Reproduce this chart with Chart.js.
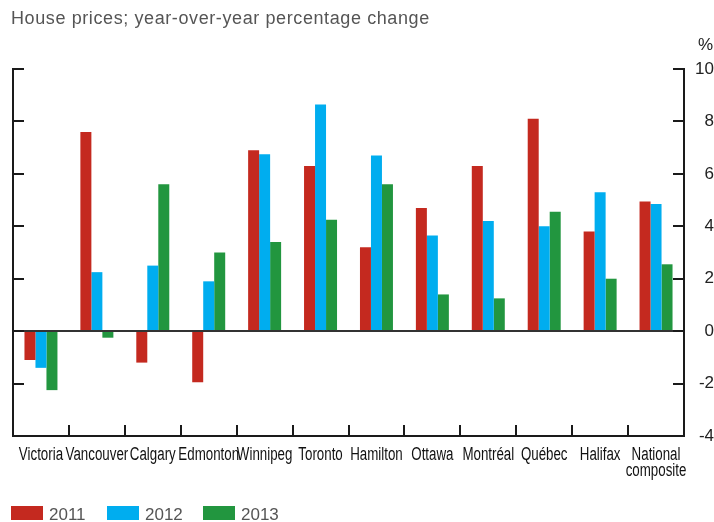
<!DOCTYPE html>
<html>
<head>
<meta charset="utf-8">
<script src="https://cdn.jsdelivr.net/npm/chart.js@4.4.1/dist/chart.umd.min.js"></script>
<style>
  html, body { margin: 0; padding: 0; background: #fff; }
  canvas { display: block; }
</style>
</head>
<body>
<canvas id="housePrices" width="714" height="522"></canvas>
<script>
// categories and values (% change, y/y)
const cities = ['Victoria', 'Vancouver', 'Calgary', 'Edmonton', 'Winnipeg', 'Toronto',
  'Hamilton', 'Ottawa', 'Montréal', 'Québec', 'Halifax', ['National', 'composite']];
const years = ['2011', '2012', '2013'];
const prices2011 = [-1.1, 7.6, -1.2, -1.95, 6.9, 6.3, 3.2, 4.7, 6.3, 8.1, 3.8, 4.95];
const prices2012 = [-1.4, 2.25, 2.5, 1.9, 6.75, 8.65, 6.7, 3.65, 4.2, 4.0, 5.3, 4.85];
const prices2013 = [-2.25, -0.25, 5.6, 3.0, 3.4, 4.25, 5.6, 1.4, 1.25, 4.55, 2.0, 2.55];
const yMin = -4, yMax = 10, yStep = 2;

const colors = {
  red: '#c4291f',
  blue: '#00adef',
  green: '#22963f',
  axis: '#1a1a1a',
  text: '#555555',
};

const sans = "'Liberation Sans', Arial, sans-serif";
const squeeze = 0.74; // no narrow font installed, so squash the city names

// axis frame, inward ticks, zero line, city labels, title and legend
const framePlugin = {
  id: 'frame',
  afterDatasetsDraw(chart) {
    const ctx = chart.ctx;
    const { left, right, top, bottom } = chart.chartArea;
    const y = chart.scales.y;
    const x = chart.scales.x;
    const tick = 11;
    ctx.save();
    ctx.lineWidth = 2;

    // zero line
    const y0 = Math.round(y.getPixelForValue(0));
    ctx.strokeStyle = '#333';
    ctx.beginPath();
    ctx.moveTo(left, y0);
    ctx.lineTo(right, y0);
    ctx.stroke();

    ctx.strokeStyle = colors.axis;
    ctx.beginPath();
    ctx.moveTo(left, top);
    ctx.lineTo(left, bottom);
    ctx.lineTo(right, bottom);
    ctx.lineTo(right, top);
    y.ticks.forEach((t) => {
      const py = Math.round(y.getPixelForValue(t.value));
      ctx.moveTo(left - 1, py);
      ctx.lineTo(left + tick, py);
      ctx.moveTo(right - tick, py);
      ctx.lineTo(right + 1, py);
    });
    for (let i = 1; i < cities.length; i++) {
      const px = Math.round((x.getPixelForValue(i - 1) + x.getPixelForValue(i)) / 2);
      ctx.moveTo(px, bottom);
      ctx.lineTo(px, bottom - tick);
    }
    ctx.stroke();

    // city labels
    ctx.fillStyle = '#111';
    ctx.font = '18px ' + sans;
    ctx.textAlign = 'center';
    ctx.textBaseline = 'alphabetic';
    chart.data.labels.forEach((lab, i) => {
      const lines = Array.isArray(lab) ? lab : [lab];
      const cx = x.getPixelForValue(i);
      lines.forEach((line, j) => {
        ctx.save();
        ctx.translate(cx, bottom + 24 + j * 16);
        ctx.scale(squeeze, 1);
        ctx.fillText(line, 0, 0);
        ctx.restore();
      });
    });

    // title and unit
    ctx.textAlign = 'left';
    ctx.fillStyle = colors.text;
    ctx.font = '18px ' + sans;
    ctx.letterSpacing = '0.6px';
    ctx.fillText('House prices; year-over-year percentage change', 11, 24);
    ctx.letterSpacing = '0px';
    ctx.font = '17px ' + sans;
    ctx.fillStyle = '#222';
    ctx.textAlign = 'right';
    ctx.fillText('%', 713, 50);

    // legend
    ctx.textAlign = 'left';
    let lx = 11;
    chart.data.datasets.forEach((ds) => {
      ctx.fillStyle = ds.backgroundColor;
      ctx.fillRect(lx, 506, 32, 14);
      ctx.fillStyle = colors.text;
      ctx.fillText(ds.label, lx + 38, 520);
      lx += 96;
    });
    ctx.restore();
  },
};

const config = {
  type: 'bar',
  data: {
    labels: cities,
    datasets: [
      { label: years[0], data: prices2011, backgroundColor: colors.red },
      { label: years[1], data: prices2012, backgroundColor: colors.blue },
      { label: years[2], data: prices2013, backgroundColor: colors.green },
    ],
  },
  options: {
    responsive: false,
    animation: false,
    layout: { padding: { top: 69, left: 13, right: 0, bottom: 0 } },
    datasets: {
      bar: { categoryPercentage: 0.59, barPercentage: 1.0, borderWidth: 0 },
    },
    plugins: {
      legend: { display: false },
      title: { display: false },
      tooltip: { enabled: false },
    },
    scales: {
      x: {
        grid: { display: false },
        border: { display: false },
        ticks: { display: false },
        afterFit(scale) { scale.height = 86; },
      },
      y: {
        position: 'right',
        min: yMin,
        max: yMax,
        grid: { display: false },
        border: { display: false },
        ticks: {
          stepSize: yStep,
          crossAlign: 'far',
          padding: 6,
          color: '#222',
          font: { family: sans, size: 17 },
        },
        afterFit(scale) { scale.width = 30; },
      },
    },
  },
  plugins: [framePlugin],
};

new Chart(document.getElementById('housePrices'), config);
</script>
</body>
</html>
